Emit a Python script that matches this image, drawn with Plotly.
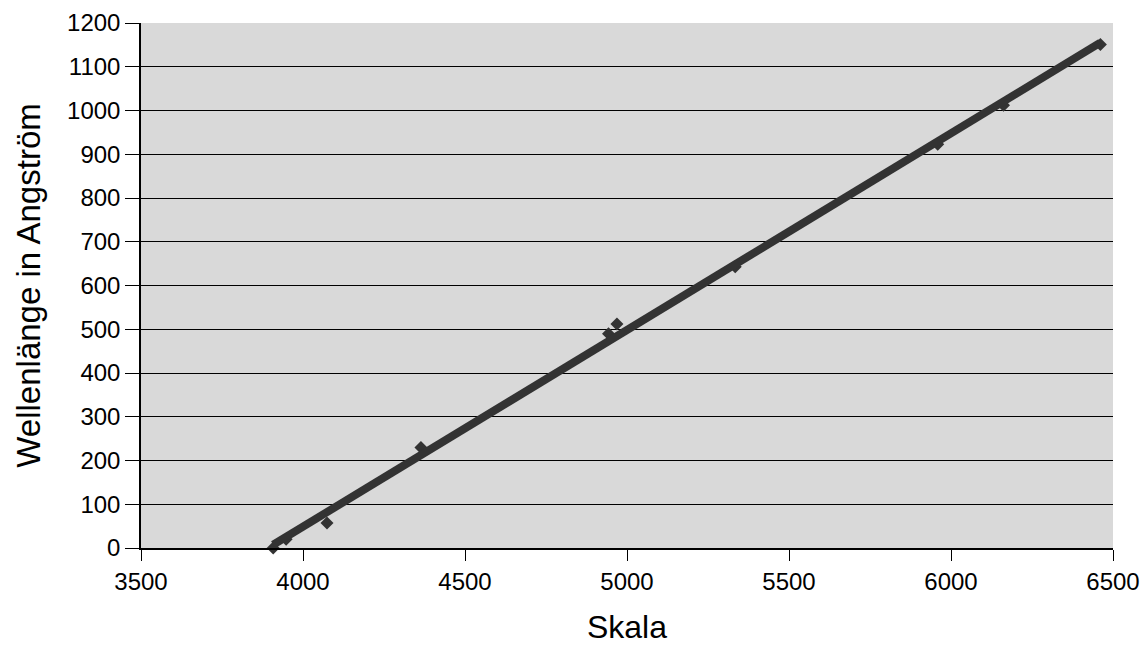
import numpy as np
import plotly.graph_objects as go

skala = [3908, 3948, 4074, 4364, 4943, 4969, 5334, 5959, 6162, 6461]
wellenlaenge = [0, 20, 57, 230, 490, 512, 643, 923, 1012, 1151]

x_ticks = [3500, 4000, 4500, 5000, 5500, 6000, 6500]
y_ticks = [0, 100, 200, 300, 400, 500, 600, 700, 800, 900, 1000, 1100, 1200]

# linear trend line (least squares) over data range
k, d = np.polyfit(skala, wellenlaenge, 1)
tx = [min(skala), max(skala)]
ty = [k * v + d for v in tx]

font_family = "Liberation Sans, Arial, sans-serif"

fig = go.Figure()
fig.add_trace(go.Scatter(
    x=skala, y=wellenlaenge, mode="markers",
    marker=dict(symbol="diamond", size=10, color="#333333"),
    showlegend=False, cliponaxis=False))
fig.add_trace(go.Scatter(
    x=tx, y=ty, mode="lines",
    line=dict(color="#333333", width=8),
    showlegend=False))

fig.update_layout(
    width=1140, height=640,
    margin=dict(l=133, r=35, t=15, b=100),
    paper_bgcolor="white",
    plot_bgcolor="#d9d9d9",
    font=dict(family=font_family, color="black", size=24),
    xaxis=dict(
        range=[3500, 6500], tickvals=x_ticks, ticktext=[str(v) for v in x_ticks],
        showgrid=False, zeroline=False, automargin=False, ticklabeloverflow="allow",
        showline=True, linecolor="black", linewidth=1.5,
        ticks="outside", ticklen=11, tickcolor="black", tickwidth=1,
        tickfont=dict(size=24, family=font_family),
        title=dict(text="Skala", font=dict(size=32, family=font_family), standoff=22),
    ),
    yaxis=dict(
        range=[0, 1200], tickvals=y_ticks, ticktext=[str(v) for v in y_ticks],
        showgrid=True, gridcolor="black", gridwidth=1, zeroline=False, automargin=False,
        ticklabeloverflow="allow",
        showline=True, linecolor="black", linewidth=1.5,
        ticks="outside", ticklen=14, tickcolor="black", tickwidth=1,
        tickfont=dict(size=24, family=font_family),
        title=dict(text="Wellenlänge in Angström", font=dict(size=33, family=font_family), standoff=17),
    ),
)

fig.write_html("out.html")
